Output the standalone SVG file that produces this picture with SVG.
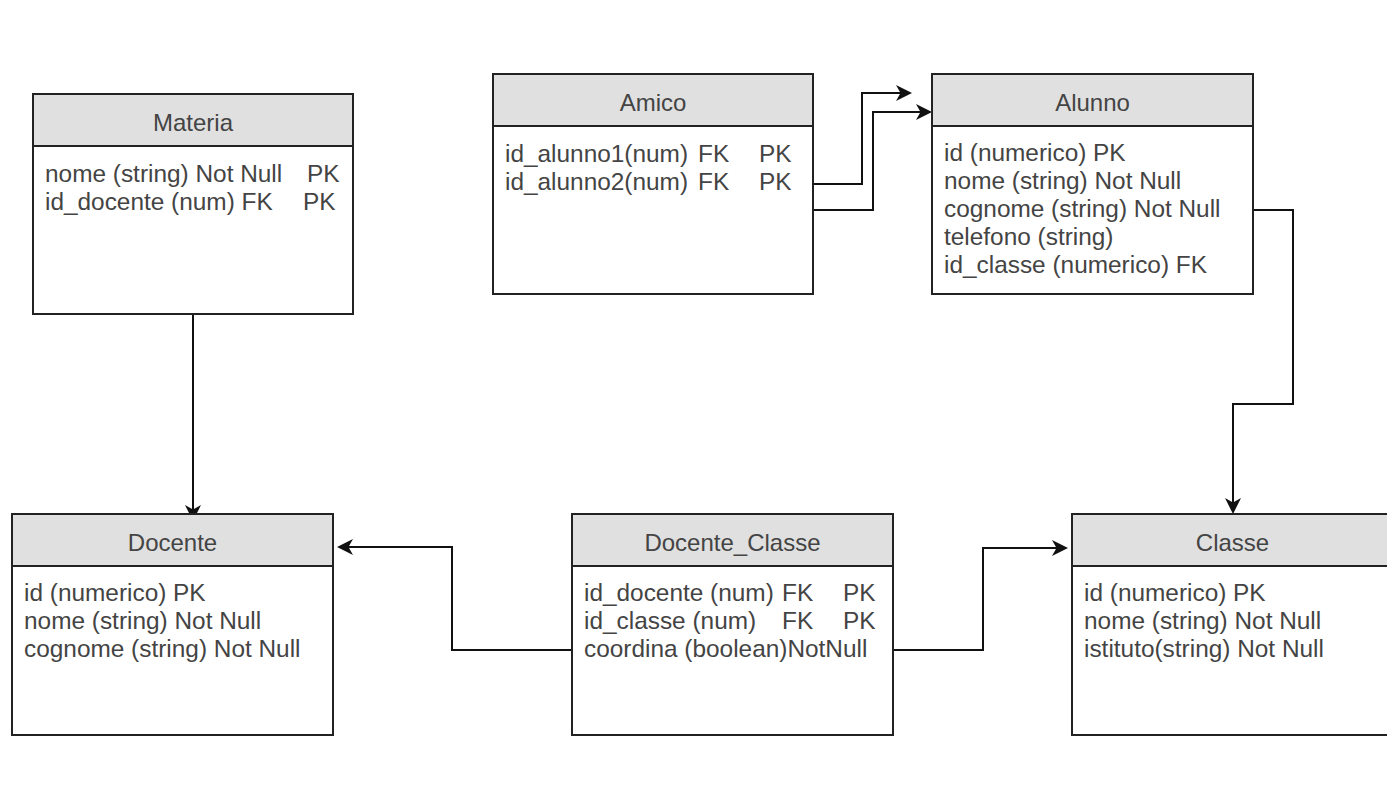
<svg xmlns="http://www.w3.org/2000/svg" width="1387" height="803" viewBox="0 0 1387 803">
  <style>
    .box { fill: #ffffff; stroke: #222222; stroke-width: 2; }
    .head { fill: #e0e0e0; stroke: #222222; stroke-width: 2; }
    .title { font-family: "Liberation Sans", Arial, sans-serif; font-size: 24px; fill: #444444; text-anchor: middle; }
    .field { font-family: "Liberation Sans", Arial, sans-serif; font-size: 24.4px; fill: #444444; }
    .link { fill: none; stroke: #111111; stroke-width: 2; marker-end: url(#arrow); }
  </style>
  <defs>
    <!-- classic filled arrowhead, tip 8px beyond the path end -->
    <marker id="arrow" markerUnits="userSpaceOnUse" markerWidth="17" markerHeight="17" viewBox="0 0 17 17" refX="8" refY="8.5" orient="auto">
      <path d="M0,0.5 L16,8.5 L0,16.5 L4.5,8.5 Z" fill="#111111"/>
    </marker>
  </defs>

  <rect x="0" y="0" width="1387" height="803" fill="#ffffff"/>

  <!-- connectors -->
  <g id="connectors">
    <path class="link" d="M193,314 V513"/>
    <path class="link" d="M813,184 H862 V93 H904"/>
    <path class="link" d="M813,210 H873 V112 H924"/>
    <path class="link" d="M1253,210 H1293 V404 H1233 V506"/>
    <path class="link" d="M572,650 H452 V547 H345"/>
    <path class="link" d="M893,650 H983 V548 H1060"/>
  </g>

  <!-- Materia -->
  <g id="materia">
    <rect class="box" x="33" y="94" width="320" height="220"/>
    <rect class="head" x="33" y="94" width="320" height="52"/>
    <text class="title" x="193" y="131">Materia</text>
    <text class="field" y="182"><tspan x="45">nome (string) Not Null</tspan><tspan x="307">PK</tspan></text>
    <text class="field" y="210"><tspan x="45">id_docente (num) FK</tspan><tspan x="303">PK</tspan></text>
  </g>

  <!-- Amico -->
  <g id="amico">
    <rect class="box" x="493" y="74" width="320" height="220"/>
    <rect class="head" x="493" y="74" width="320" height="52"/>
    <text class="title" x="653" y="111">Amico</text>
    <text class="field" y="162"><tspan x="505">id_alunno1(num)</tspan><tspan x="698">FK</tspan><tspan x="759">PK</tspan></text>
    <text class="field" y="190"><tspan x="505">id_alunno2(num)</tspan><tspan x="698">FK</tspan><tspan x="759">PK</tspan></text>
  </g>

  <!-- Alunno -->
  <g id="alunno">
    <rect class="box" x="932" y="74" width="321" height="220"/>
    <rect class="head" x="932" y="74" width="321" height="52"/>
    <text class="title" x="1092.5" y="111">Alunno</text>
    <text class="field" x="944" y="161">id (numerico) PK</text>
    <text class="field" x="944" y="189">nome (string) Not Null</text>
    <text class="field" x="944" y="217">cognome (string) Not Null</text>
    <text class="field" x="944" y="245">telefono (string)</text>
    <text class="field" x="944" y="273">id_classe (numerico) FK</text>
  </g>

  <!-- Docente -->
  <g id="docente">
    <rect class="box" x="12" y="514" width="321" height="221"/>
    <rect class="head" x="12" y="514" width="321" height="52"/>
    <text class="title" x="172.5" y="551">Docente</text>
    <text class="field" x="24" y="601">id (numerico) PK</text>
    <text class="field" x="24" y="629">nome (string) Not Null</text>
    <text class="field" x="24" y="657">cognome (string) Not Null</text>
  </g>

  <!-- Docente_Classe -->
  <g id="docente_classe">
    <rect class="box" x="572" y="514" width="321" height="221"/>
    <rect class="head" x="572" y="514" width="321" height="52"/>
    <text class="title" x="732.5" y="551">Docente_Classe</text>
    <text class="field" y="601"><tspan x="584">id_docente (num)</tspan><tspan x="782">FK</tspan><tspan x="843">PK</tspan></text>
    <text class="field" y="629"><tspan x="584">id_classe (num)</tspan><tspan x="782">FK</tspan><tspan x="843">PK</tspan></text>
    <text class="field" x="584" y="657">coordina (boolean)NotNull</text>
  </g>

  <!-- Classe -->
  <g id="classe">
    <rect class="box" x="1072" y="514" width="321" height="221"/>
    <rect class="head" x="1072" y="514" width="321" height="52"/>
    <text class="title" x="1232.5" y="551">Classe</text>
    <text class="field" x="1084" y="601">id (numerico) PK</text>
    <text class="field" x="1084" y="629">nome (string) Not Null</text>
    <text class="field" x="1084" y="657">istituto(string) Not Null</text>
  </g>
</svg>
